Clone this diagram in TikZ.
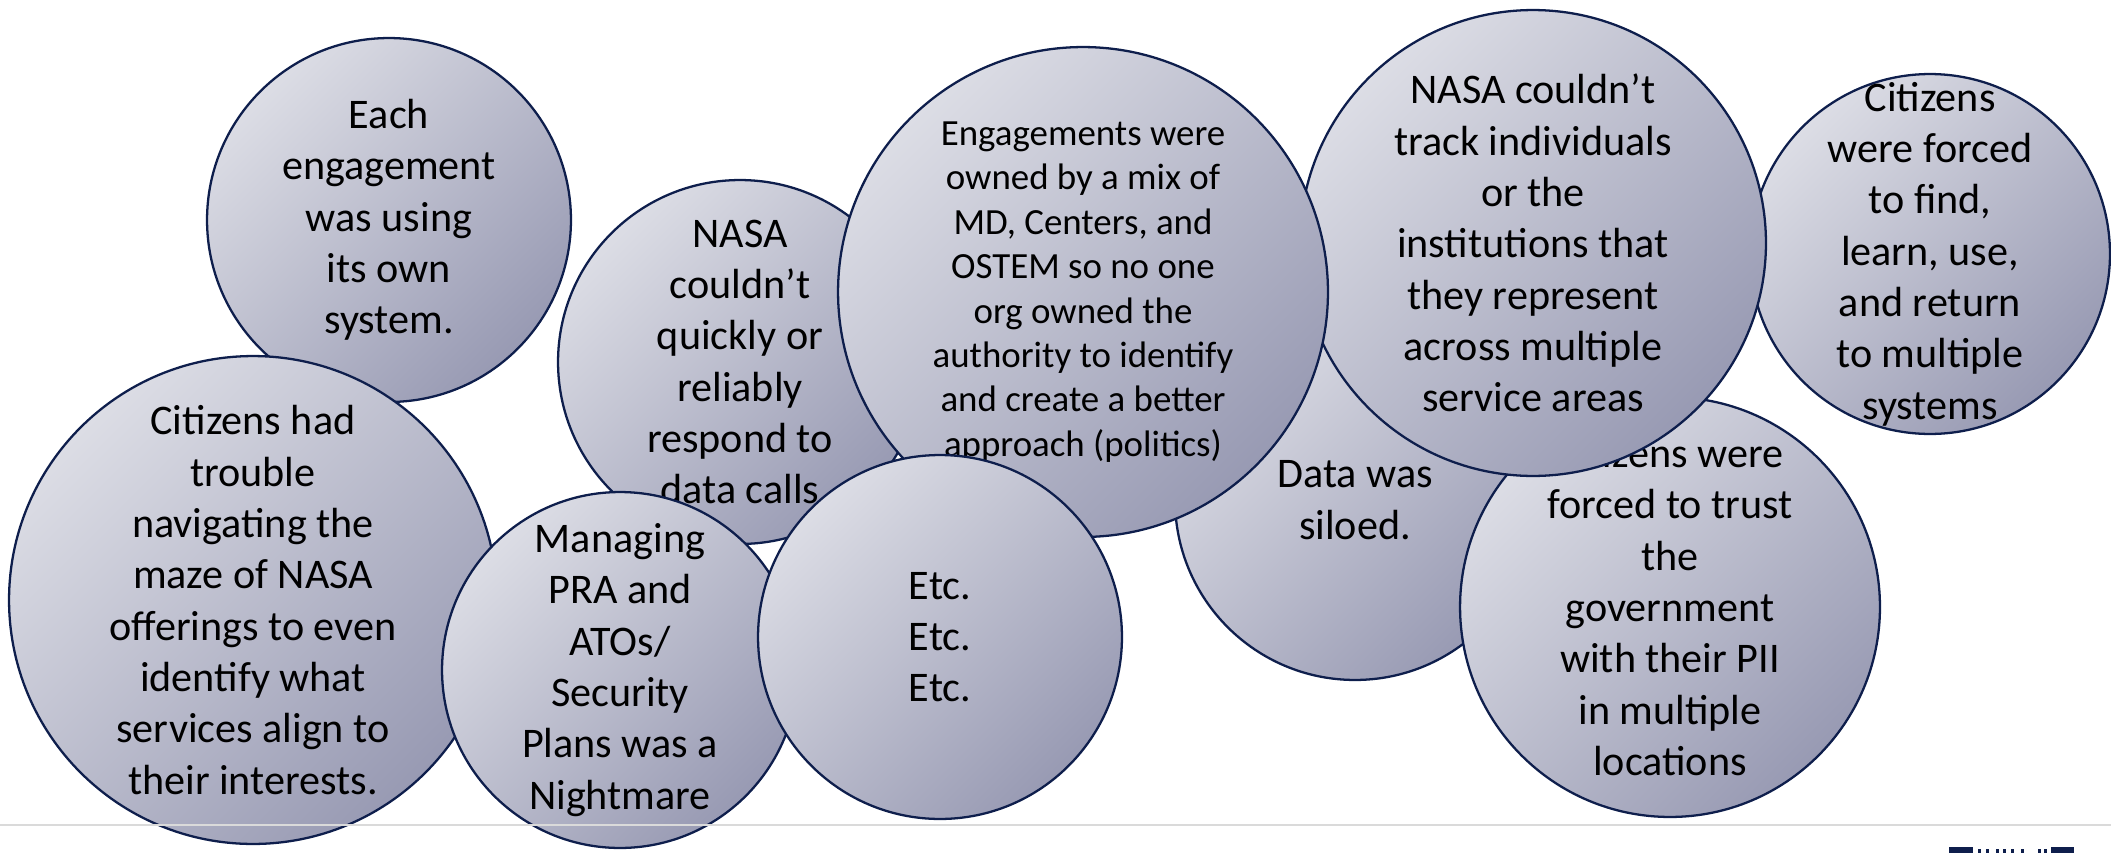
\documentclass[tikz,border=0pt]{standalone}
\usepackage{fontspec}
\setmainfont{Carlito}
\definecolor{navy}{HTML}{0E1E4C}
\definecolor{bubblelight}{HTML}{DCDDE5}
\definecolor{bubbledark}{HTML}{989AB3}
\definecolor{rulegray}{HTML}{DADADA}
\tikzset{bubble/.style={circle, draw=navy, line width=1.3pt, top color=bubblelight, bottom color=bubbledark, shading angle=45}}

\begin{document}
\begin{tikzpicture}[x=0.02cm, y=-0.02cm]
\tikzstyle{note} = [align=center, inner sep=0pt, font=\fontsize{24}{29.2}\selectfont]
\tikzstyle{smallnote} = [align=center, inner sep=0pt, font=\fontsize{21}{25.3}\selectfont]

\useasboundingbox (0,0) rectangle (2111,852);

\node [bubble, minimum size=7.28cm](each) at (389,220) {};
\node [note](each_txt) at (each) {Each\\engagement\\was using\\its own\\system.};
\node [bubble, minimum size=9.76cm](trouble) at (253,600) {};
\node [note](trouble_txt) at (trouble) {Citizens had\\trouble\\navigating the\\maze of NASA\\offerings to even\\identify what\\services align to\\their interests.};
\node [bubble, minimum size=7.28cm](quickly) at (740,362) {};
\node [note](quickly_txt) at (quickly) {NASA\\couldn’t\\quickly or\\reliably\\respond to\\data calls};
\node [bubble, minimum size=7.12cm](managing) at (620,670) {};
\node [note](managing_txt) at (managing) {Managing\\PRA and\\ATOs/\\Security\\Plans was a\\Nightmare};
\node [bubble, minimum size=7.2cm](siloed) at (1355,500) {};
\node [note](siloed_txt) at (siloed) {Data was\\siloed.};
\node [bubble, minimum size=7.2cm](find) at (1930,254) {};
\node [note](find_txt) at (find) {Citizens\\were forced\\to find,\\learn, use,\\and return\\to multiple\\systems};
\node [bubble, minimum size=8.4cm](trust) at (1670,607) {};
\node [note](trust_txt) at (trust) {Citizens were\\forced to trust\\the\\government\\with their PII\\in multiple\\locations};
\node [bubble, minimum size=9.32cm](track) at (1533,243) {};
\node [note](track_txt) at (track) {NASA couldn’t\\track individuals\\or the\\institutions that\\they represent\\across multiple\\service areas};
\node [bubble, minimum size=9.8cm](owners) at (1083,292) {};
\node [smallnote](owners_txt) at (owners) {Engagements were\\owned by a mix of\\MD, Centers, and\\OSTEM so no one\\org owned the\\authority to identify\\and create a better\\approach (politics)};
\node [bubble, minimum size=7.28cm](etc) at (940,637) {};
\node [note](etc_txt) at (etc) {Etc.\\Etc.\\Etc.};

\coordinate (rule_l) at (0,825);
\coordinate (rule_r) at (2111,825);
\draw [rulegray, line width=1.6pt] (rule_l) -- (rule_r);

\draw [navy, line width=3.5pt] (1952,850) rectangle (1970,862);
\draw [navy, line width=3.5pt] (2054,850) rectangle (2071,862);
\foreach \x in {1978,1986,1996,2003,2011,2021,2038,2044}
  \fill [navy] (\x,849) rectangle ++(3,4);

\end{tikzpicture}
\end{document}
